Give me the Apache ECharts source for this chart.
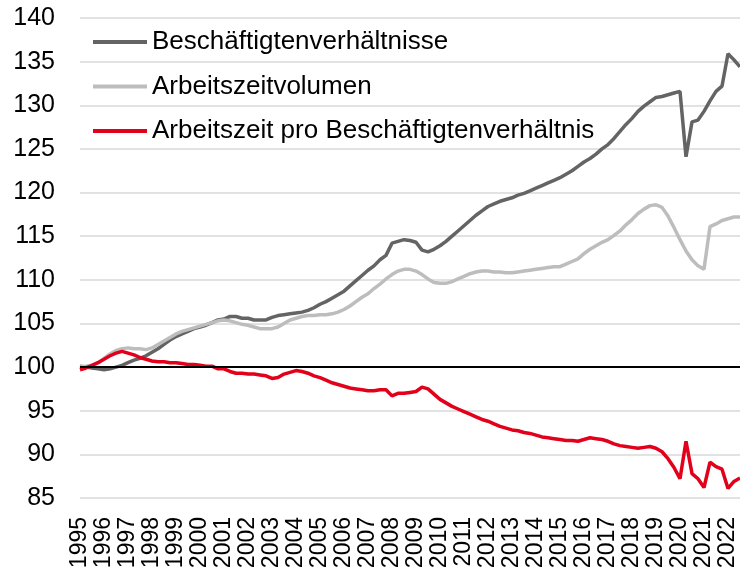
<!DOCTYPE html>
<html lang="de">
<head>
<meta charset="UTF-8">
<title>Beschäftigung und Arbeitszeit</title>
<script src="https://cdn.jsdelivr.net/npm/echarts@6/dist/echarts.min.js"></script>
<style>
  html, body { margin: 0; padding: 0; background: #fff; }
  #chart { width: 740px; height: 573px; }
</style>
</head>
<body>
<div id="chart"></div>
<script>
// Jahre der Achse (Quartalsdaten 1995 Q1 bis 2022 Q3)
var years = [1995,1996,1997,1998,1999,2000,2001,2002,2003,2004,2005,2006,2007,2008,
             2009,2010,2011,2012,2013,2014,2015,2016,2017,2018,2019,2020,2021,2022];
var lastQuarter = 3;

// Beschäftigtenverhältnisse (1995 = 100)
var beschaeftigte = [
  100.1,100.0,99.9,99.8, 99.7,99.8,100.0,100.2, 100.5,100.8,101.0,101.3, 101.7,102.1,102.6,103.1,
  103.5,103.8,104.1,104.4, 104.6,104.8,105.1,105.4, 105.5,105.8,105.8,105.6, 105.6,105.4,105.4,105.4,
  105.7,105.9,106.0,106.1, 106.2,106.3,106.5,106.8, 107.2,107.5,107.9,108.3, 108.7,109.3,109.9,110.5,
  111.1,111.6,112.3,112.8, 114.2,114.4,114.6,114.5, 114.3,113.4,113.2,113.5, 113.9,114.4,115.0,115.6,
  116.2,116.8,117.4,117.9, 118.4,118.7,119.0,119.2, 119.4,119.7,119.9,120.2, 120.5,120.8,121.1,121.4,
  121.7,122.1,122.5,123.0, 123.5,123.9,124.4,125.0, 125.5,126.2,127.0,127.8, 128.5,129.3,129.9,130.4,
  130.9,131.0,131.2,131.4, 131.6,124.1,128.1,128.3, 129.3,130.5,131.6,132.2, 135.9,135.2,134.4
];

// Arbeitszeitvolumen
var volumen = [
  100.0,100.1,100.2,100.5, 101.0,101.5,101.9,102.1, 102.2,102.1,102.1,102.0, 102.2,102.6,103.0,103.4,
  103.8,104.1,104.3,104.5, 104.7,104.9,105.1,105.3, 105.4,105.3,105.1,104.9, 104.8,104.6,104.4,104.4,
  104.4,104.6,105.0,105.4, 105.6,105.8,105.9,105.9, 106.0,106.0,106.1,106.3, 106.6,107.0,107.5,108.0,
  108.4,109.0,109.5,110.1, 110.6,111.0,111.2,111.2, 111.0,110.6,110.1,109.7, 109.6,109.6,109.8,110.1,
  110.4,110.7,110.9,111.0, 111.0,110.9,110.9,110.8, 110.8,110.9,111.0,111.1, 111.2,111.3,111.4,111.5,
  111.5,111.8,112.1,112.4, 113.0,113.5,113.9,114.3, 114.6,115.1,115.6,116.3, 116.9,117.6,118.1,118.5,
  118.6,118.3,117.3,116.0, 114.6,113.3,112.3,111.6, 111.2,116.1,116.4,116.8, 117.0,117.2,117.2
];

// Arbeitszeit pro Beschäftigtenverhältnis
var proKopf = [
  99.7,99.9,100.2,100.5, 100.9,101.3,101.6,101.8, 101.6,101.4,101.1,100.9, 100.7,100.6,100.6,100.5,
  100.5,100.4,100.3,100.3, 100.2,100.1,100.1,99.8, 99.8,99.5,99.3,99.3, 99.2,99.2,99.1,99.0,
  98.7,98.8,99.2,99.4, 99.6,99.5,99.3,99.0, 98.8,98.5,98.2,98.0, 97.8,97.6,97.5,97.4,
  97.3,97.3,97.4,97.4, 96.7,97.0,97.0,97.1, 97.2,97.7,97.5,96.9, 96.3,95.9,95.5,95.2,
  94.9,94.6,94.3,94.0, 93.8,93.5,93.2,93.0, 92.8,92.7,92.5,92.4, 92.2,92.0,91.9,91.8,
  91.7,91.6,91.6,91.5, 91.7,91.9,91.8,91.7, 91.5,91.2,91.0,90.9, 90.8,90.7,90.8,90.9,
  90.7,90.3,89.5,88.5, 87.2,91.5,87.8,87.2, 86.2,89.1,88.6,88.3, 86.1,86.9,87.3
];

var quarters = [];
years.forEach(function (y, i) {
  var n = (i === years.length - 1) ? lastQuarter : 4;
  for (var q = 1; q <= n; q++) quarters.push(y + ' Q' + q);
});

var font = '"Liberation Sans", Arial, sans-serif';
var chart = echarts.init(document.getElementById('chart'));

function line(name, data, color) {
  return {
    name: name,
    type: 'line',
    data: data,
    symbol: 'none',
    lineStyle: { color: color, width: 3.5 },
    itemStyle: { color: color },
    animation: false
  };
}

var series = [
  line('Beschäftigtenverhältnisse', beschaeftigte, '#646464'),
  line('Arbeitszeitvolumen', volumen, '#bdbdbd'),
  line('Arbeitszeit pro Beschäftigtenverhältnis', proKopf, '#e3001b')
];
series[0].markLine = {
  silent: true,
  symbol: 'none',
  label: { show: false },
  lineStyle: { color: '#000', width: 2, type: 'solid' },
  data: [{ yAxis: 100 }],
  animation: false
};
series[0].z = 3;

chart.setOption({
  animation: false,
  grid: { left: 80, right: 0, top: 18, bottom: 75, containLabel: false },
  legend: {
    orient: 'vertical',
    left: 93,
    top: 27,
    padding: 0,
    icon: 'rect',
    itemWidth: 54,
    itemHeight: 4,
    itemGap: 14.5,
    textStyle: { fontFamily: font, fontSize: 26, color: '#000', lineHeight: 30 },
    data: series.map(function (s) { return s.name; })
  },
  xAxis: {
    type: 'category',
    data: quarters,
    boundaryGap: false,
    axisLine: { show: false },
    axisTick: { show: false },
    splitLine: { show: false },
    axisLabel: {
      interval: 3,
      rotate: 90,
      margin: 19,
      fontFamily: font,
      fontSize: 23,
      color: '#000',
      formatter: function (v) { return v.slice(0, 4); }
    }
  },
  yAxis: {
    type: 'value',
    min: 85,
    max: 140,
    interval: 5,
    axisLine: { show: false },
    axisTick: { show: false },
    splitLine: { lineStyle: { color: '#d9d9d9', width: 1.5 } },
    axisLabel: { margin: 25, fontFamily: font, fontSize: 25, color: '#000' }
  },
  series: series
});
</script>
</body>
</html>
